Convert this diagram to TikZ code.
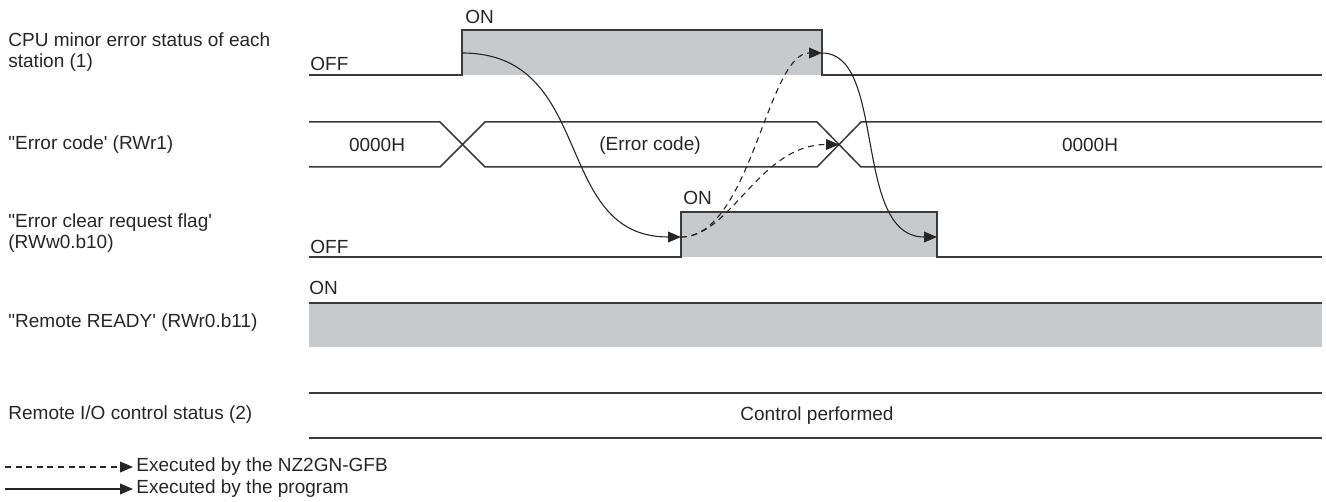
\documentclass[tikz,border=0pt]{standalone}
\usepackage{fontspec}
\setmainfont{Liberation Sans}
\usetikzlibrary{arrows.meta}
\definecolor{sigfill}{RGB}{200,201,203}
\definecolor{sigline}{RGB}{58,58,58}

\begin{document}
\begin{tikzpicture}[
  x=0.5pt, y=-0.5pt, >={Triangle[length=6.5pt,width=5.4pt]},
  font=\fontsize{9.5}{10.5}\selectfont, text=black!85,
  wave/.style={draw=sigline, line width=0.75pt},
  hi/.style={fill=sigfill},
  lbl/.style={anchor=west, align=left, inner sep=0pt},
  prog/.style={->, line width=0.55pt, draw=black!85},
  unit/.style={prog, dash pattern=on 3pt off 2.3pt},
]
\useasboundingbox (0,0) rectangle (1326,502);

\node[lbl] (cpu)   at (8,52)  {CPU minor error status of each\\station (1)};
\node[lbl] (code)  at (8,145) {\textquotedbl Error code\textquotesingle{} (RWr1)};
\node[lbl] (clr)   at (8,233) {\textquotedbl Error clear request flag\textquotesingle\\(RWw0.b10)};
\node[lbl] (ready) at (8,323) {\textquotedbl Remote READY\textquotesingle{} (RWr0.b11)};
\node[lbl] (rio)   at (8,415) {Remote I/O control status (2)};

\fill[hi] (462,30) rectangle (822,75);
\fill[hi] (681,212) rectangle (937,257);
\fill[hi] (309,303) rectangle (1322,347);

\draw[wave] (309,75) -- (462,75) -- (462,30) -- (822,30) -- (822,75) -- (1322,75);
\draw[wave] (309,122) -- (440,122) -- (485,167) -- (817,167) -- (861,122) -- (1322,122);
\draw[wave] (309,167) -- (440,167) -- (485,122) -- (817,122) -- (861,167) -- (1322,167);
\draw[wave] (309,257) -- (681,257) -- (681,212) -- (937,212) -- (937,257) -- (1322,257);
\draw[wave] (309,303) -- (1322,303);
\draw[wave] (309,393) -- (1322,393);
\draw[wave] (309,438) -- (1322,438);

\node[lbl] (cpuoff) at (310,64)  {OFF};
\node[lbl] (cpuon)  at (465,17)  {ON};
\node (code1) at (377,145)  {0000H};
\node (code2) at (650,146)  {(Error code)};
\node (code3) at (1090,145) {0000H};
\node[lbl] (clroff) at (310,247) {OFF};
\node[lbl] (clron)  at (683,198) {ON};
\node[lbl] (rdyon)  at (309,288) {ON};
\node (ctrl) at (817,416) {Control performed};

\coordinate (cpuup)   at (462,53);
\coordinate (cpudown) at (822,53);
\coordinate (cross)   at (839,144.5);
\coordinate (clrup)   at (681,237);
\coordinate (clrdown) at (937,237);

\draw[prog] (cpuup) .. controls +(135,0) and +(-130,0) .. (clrup);
\draw[unit] (clrup) .. controls +(70,0) and +(-55,0) .. (cpudown);
\draw[unit] (clrup) .. controls +(50,0) and +(-80,0) .. (cross);
\draw[prog] (cpudown) .. controls +(65,0) and +(-85,0) .. (clrdown);

\node[lbl] (keyunit) at (136,467) {Executed by the NZ2GN-GFB};
\node[lbl] (keyprog) at (136,489) {Executed by the program};
\coordinate (keyunit0) at (5,467);
\coordinate (keyprog0) at (5,489);
\draw[unit, shorten >=1.5pt] (keyunit0) -- (keyunit.west);
\draw[prog, shorten >=1.5pt] (keyprog0) -- (keyprog.west);
\end{tikzpicture}
\end{document}
